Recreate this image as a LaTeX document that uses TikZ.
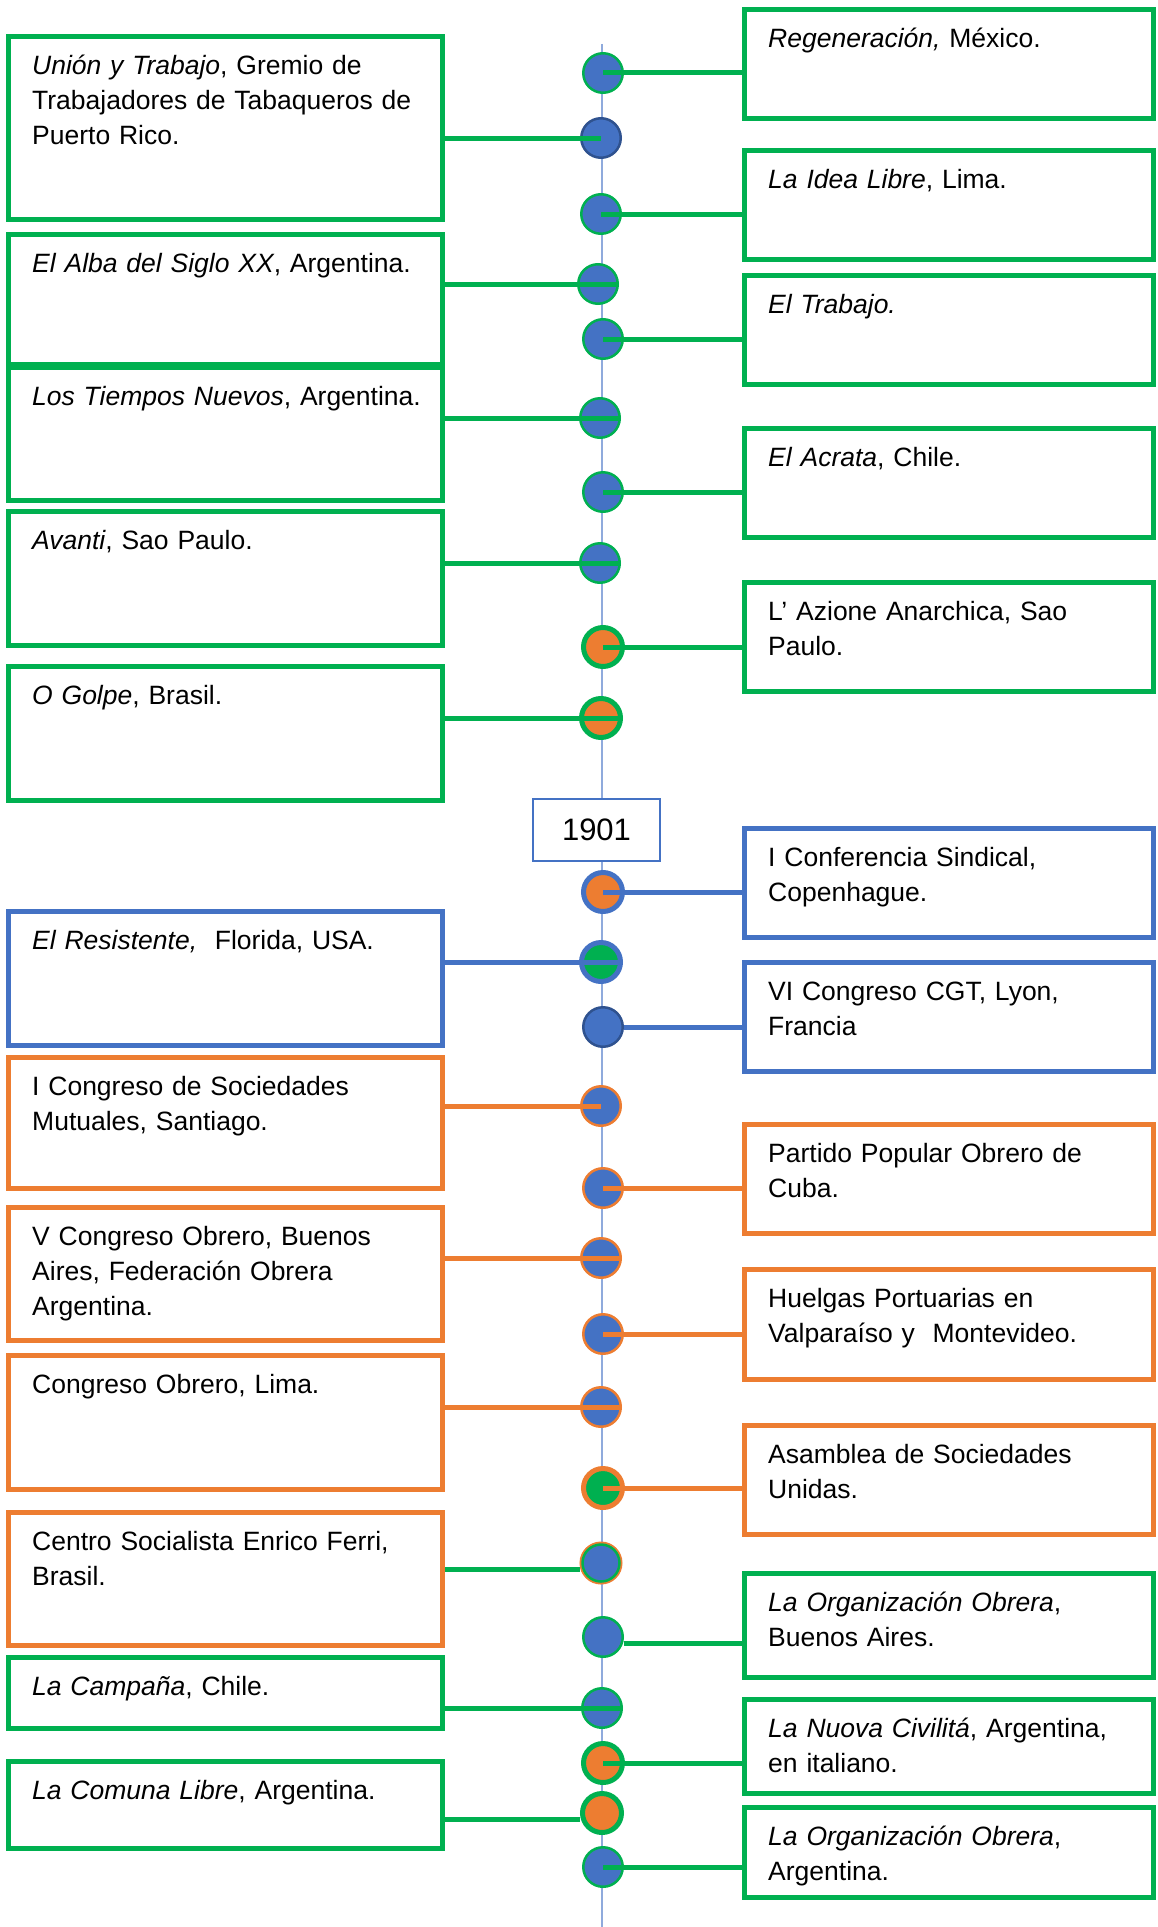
\documentclass[tikz,border=0pt]{standalone}
\usepackage{fontspec}
\setmainfont{Liberation Sans}
\usetikzlibrary{positioning, calc}

\definecolor{evgreen}{HTML}{00B050}
\definecolor{evblue}{HTML}{4472C4}
\definecolor{evdark}{HTML}{2F528F}
\definecolor{evorange}{HTML}{ED7D31}
\definecolor{evline}{HTML}{8FAADC}

\newcommand{\evfont}{\fontsize{26.5}{35}\selectfont\strut}

\tikzset{
  evbox/.style={draw=#1, line width=5pt, fill=white, rectangle, anchor=north west, inner sep=0pt},
  lbox/.style={evbox=#1, minimum width=434pt},
  rbox/.style={evbox=#1, minimum width=409pt},
  evtext/.style={anchor=north west, inner sep=0pt, xshift=26pt, yshift=-15.5pt,
    align=left, text width=390pt, font=\evfont},
  yearbox/.style={draw=evblue, line width=2pt, fill=white, minimum width=127pt,
    minimum height=62pt, font=\fontsize{31}{37}\selectfont},
  dot/.style={circle, inner sep=0pt, minimum size=39.5pt, line width=2.5pt},
  fatdot/.style={dot, line width=5pt, minimum size=39pt},
  gbdot/.style={dot, fill=evblue, draw=evgreen},
  dbdot/.style={dot, fill=evblue, draw=evdark},
  obdot/.style={dot, fill=evblue, draw=evorange},
  godot/.style={fatdot, fill=evorange, draw=evgreen},
  bodot/.style={fatdot, fill=evorange, draw=evblue},
  bgdot/.style={fatdot, fill=evgreen, draw=evblue},
  ogdot/.style={fatdot, fill=evgreen, draw=evorange},
  rgdot/.style={dot, fill=evblue, draw=evorange, line width=4pt, minimum size=39pt},
  conn/.style={draw=#1, line width=5pt},
}

\begin{document}
\begin{tikzpicture}[x=1pt, y=-1pt]
\useasboundingbox (0,0) rectangle (1158,1927);

% Timeline
\coordinate (top) at (602,44);
\coordinate (bottom) at (602,1927);
\draw[evline, line width=2pt] (top) -- (bottom);
\node[yearbox] (Y1901) at (596.5,830) {1901};

% Left column
\node[lbox=evgreen, minimum height=183pt] (L1) at (6,34) {};
\node[evtext] (L1t) at (L1.north west) {\textit{Unión y Trabajo}, Gremio de\\Trabajadores de Tabaqueros de\\Puerto Rico.};
\node[lbox=evgreen, minimum height=130pt] (L2) at (6,232) {};
\node[evtext] (L2t) at (L2.north west) {\textit{El Alba del Siglo XX}, Argentina.};
\node[lbox=evgreen, minimum height=133pt] (L3) at (6,365) {};
\node[evtext] (L3t) at (L3.north west) {\textit{Los Tiempos Nuevos}, Argentina.};
\node[lbox=evgreen, minimum height=134pt] (L4) at (6,509) {};
\node[evtext] (L4t) at (L4.north west) {\textit{Avanti}, Sao Paulo.};
\node[lbox=evgreen, minimum height=134pt] (L5) at (6,664) {};
\node[evtext] (L5t) at (L5.north west) {\textit{O Golpe}, Brasil.};
\node[lbox=evblue, minimum height=134pt] (L6) at (6,909) {};
\node[evtext] (L6t) at (L6.north west) {\textit{El Resistente,}\ \ Florida, USA.};
\node[lbox=evorange, minimum height=131pt] (L7) at (6,1055) {};
\node[evtext] (L7t) at (L7.north west) {I Congreso de Sociedades\\Mutuales, Santiago.};
\node[lbox=evorange, minimum height=133pt] (L8) at (6,1205) {};
\node[evtext] (L8t) at (L8.north west) {V Congreso Obrero, Buenos\\Aires, Federación Obrera\\Argentina.};
\node[lbox=evorange, minimum height=134pt] (L9) at (6,1353) {};
\node[evtext] (L9t) at (L9.north west) {Congreso Obrero, Lima.};
\node[lbox=evorange, minimum height=133pt] (L10) at (6,1510) {};
\node[evtext] (L10t) at (L10.north west) {Centro Socialista Enrico Ferri,\\Brasil.};
\node[lbox=evgreen, minimum height=71pt] (L11) at (6,1655) {};
\node[evtext] (L11t) at (L11.north west) {\textit{La Campaña}, Chile.};
\node[lbox=evgreen, minimum height=87pt] (L12) at (6,1759) {};
\node[evtext] (L12t) at (L12.north west) {\textit{La Comuna Libre}, Argentina.};

% Right column
\node[rbox=evgreen, minimum height=109pt] (R1) at (742,7) {};
\node[evtext] (R1t) at (R1.north west) {\textit{Regeneración,} México.};
\node[rbox=evgreen, minimum height=109pt] (R2) at (742,148) {};
\node[evtext] (R2t) at (R2.north west) {\textit{La Idea Libre}, Lima.};
\node[rbox=evgreen, minimum height=109pt] (R3) at (742,273) {};
\node[evtext] (R3t) at (R3.north west) {\textit{El Trabajo.}};
\node[rbox=evgreen, minimum height=109pt] (R4) at (742,426) {};
\node[evtext] (R4t) at (R4.north west) {\textit{El Acrata}, Chile.};
\node[rbox=evgreen, minimum height=109pt] (R5) at (742,580) {};
\node[evtext] (R5t) at (R5.north west) {L’ Azione Anarchica, Sao\\Paulo.};
\node[rbox=evblue, minimum height=109pt] (R6) at (742,826) {};
\node[evtext] (R6t) at (R6.north west) {I Conferencia Sindical,\\Copenhague.};
\node[rbox=evblue, minimum height=109pt] (R7) at (742,960) {};
\node[evtext] (R7t) at (R7.north west) {VI Congreso CGT, Lyon,\\Francia};
\node[rbox=evorange, minimum height=109pt] (R8) at (742,1122) {};
\node[evtext] (R8t) at (R8.north west) {Partido Popular Obrero de\\Cuba.};
\node[rbox=evorange, minimum height=110pt] (R9) at (742,1267) {};
\node[evtext] (R9t) at (R9.north west) {Huelgas Portuarias en\\Valparaíso y\ \ Montevideo.};
\node[rbox=evorange, minimum height=109pt] (R10) at (742,1423) {};
\node[evtext] (R10t) at (R10.north west) {Asamblea de Sociedades\\Unidas.};
\node[rbox=evgreen, minimum height=104pt] (R11) at (742,1571) {};
\node[evtext] (R11t) at (R11.north west) {\textit{La Organización Obrera},\\Buenos Aires.};
\node[rbox=evgreen, minimum height=94pt] (R12) at (742,1697) {};
\node[evtext] (R12t) at (R12.north west) {\textit{La Nuova Civilitá}, Argentina,\\en italiano.};
\node[rbox=evgreen, minimum height=90pt] (R13) at (742,1805) {};
\node[evtext] (R13t) at (R13.north west) {\textit{La Organización Obrera},\\Argentina.};

% Dots on the timeline
\foreach \n/\x/\y/\s in {
    1/603/73/gbdot, 2/601/138/dbdot, 3/601/214/gbdot, 4/598/284/gbdot,
    5/603/339/gbdot, 6/600/418/gbdot, 7/603/492/gbdot, 8/600/563/gbdot,
    9/603/647/godot, 10/601/718/godot, 11/603/892/bodot, 12/601/962/bgdot,
    13/603/1027/dbdot, 14/601/1106/obdot, 15/603/1188/obdot, 16/601/1258/obdot,
    17/603/1334/obdot, 18/601/1407/obdot, 19/603/1488/ogdot, 20/601/1563/rgdot,
    21/603/1637/gbdot, 22/602/1708/gbdot, 23/603/1763/godot, 24/602/1813/godot,
    25/603/1867/gbdot} {
    \node[\s] (C\n) at (\x,\y) {};
}
\draw[evgreen, line width=2.5pt] (C20) circle[radius=18.5pt];

% Connectors
\foreach \c/\b/\k in {1/R1/evgreen, 3/R2/evgreen, 5/R3/evgreen, 7/R4/evgreen,
    9/R5/evgreen, 11/R6/evblue, 15/R8/evorange, 17/R9/evorange, 19/R10/evorange,
    23/R12/evgreen, 25/R13/evgreen}
    \draw[conn=\k] (C\c.center) -- (C\c.center -| \b.west);
\foreach \c/\b/\k in {4/L2/evgreen, 6/L3/evgreen, 8/L4/evgreen, 10/L5/evgreen,
    12/L6/evblue, 16/L8/evorange, 18/L9/evorange, 22/L11/evgreen}
    \draw[conn=\k] (\b.east |- C\c) -- (C\c.east);
\draw[conn=evgreen] (L1.east |- C2) -- (C2.center);
\draw[conn=evorange] (L7.east |- C14) -- (C14.center);
\draw[conn=evblue] (C13.east) -- (C13.east -| R7.west);
\coordinate (c21) at ([yshift=-6pt]C21.east);
\draw[conn=evgreen] (c21) -- (c21 -| R11.west);
\coordinate (c20) at ([yshift=-6pt]C20.west);
\draw[conn=evgreen] (L10.east |- c20) -- (c20);
\coordinate (c24) at ([yshift=-6pt]C24.west);
\draw[conn=evgreen] (L12.east |- c24) -- (c24);
\end{tikzpicture}
\end{document}
